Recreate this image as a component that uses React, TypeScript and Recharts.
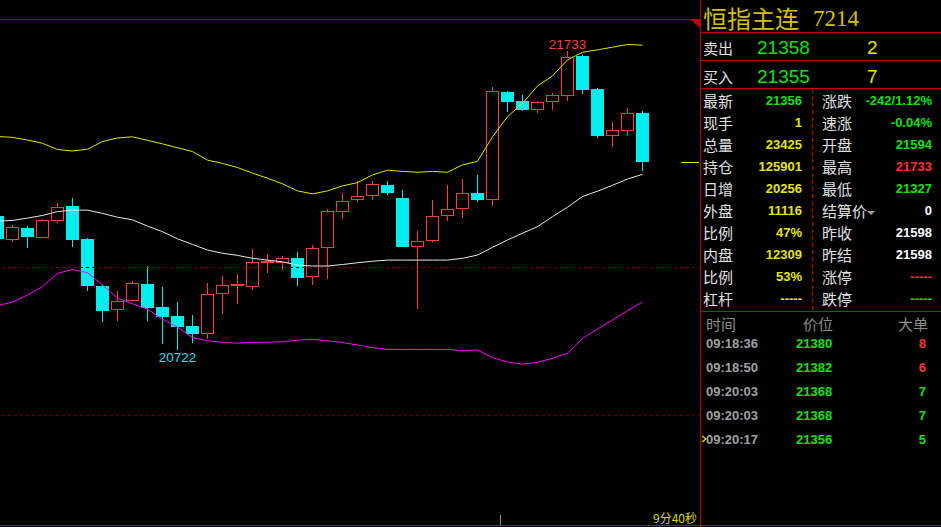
import React from 'react';
import { ComposedChart, Bar, Line, XAxis, YAxis, ReferenceLine, ReferenceDot } from 'recharts';

// ---------- chart data (44 candles, 3 empty slots on the right) ----------
const slotIds = [
  0, 1, 2, 3, 4, 5, 6, 7, 8, 9, 10, 11, 12, 13, 14, 15, 16, 17, 18, 19, 20, 21, 22, 23,
  24, 25, 26, 27, 28, 29, 30, 31, 32, 33, 34, 35, 36, 37, 38, 39, 40, 41, 42, 43, 44, 45, 46,
];
const opens = [
  21174, 21094, 21134, 21101, 21158, 21208, 21096, 20937, 20857, 20888, 20944, 20866, 20836, 20802,
  20776, 20909, 20938, 20933, 21014, 21016, 21032, 20967, 21065, 21187, 21227, 21241, 21278, 21235,
  21068, 21089, 21173, 21199, 21252, 21229, 21594, 21563, 21534, 21558, 21581, 21716, 21604, 21446,
  21463, 21523,
];
const highs = [
  21176, 21144, 21140, 21163, 21218, 21235, 21100, 20941, 20920, 20954, 21005, 20934, 20883, 20839,
  20948, 20971, 20978, 21063, 21046, 21040, 21052, 21075, 21198, 21252, 21293, 21293, 21293, 21261,
  21123, 21227, 21279, 21298, 21313, 21610, 21598, 21584, 21562, 21590, 21733, 21720, 21606, 21492,
  21540, 21528,
];
const lows = [
  21094, 21087, 21067, 21099, 21152, 21069, 20922, 20817, 20820, 20886, 20820, 20742, 20722, 20746,
  20758, 20844, 20878, 20925, 20982, 20993, 20938, 20942, 20962, 21165, 21223, 21229, 21245, 21068,
  20861, 21087, 21158, 21168, 21223, 21209, 21527, 21529, 21524, 21534, 21564, 21588, 21439, 21409,
  21446, 21327,
];
const closes = [
  21096, 21136, 21103, 21161, 21204, 21093, 20938, 20854, 20886, 20947, 20864, 20833, 20800, 20776,
  20910, 20940, 20945, 21018, 21022, 21031, 20966, 21065, 21191, 21224, 21241, 21281, 21253, 21070,
  21089, 21173, 21197, 21251, 21228, 21598, 21561, 21533, 21559, 21583, 21711, 21600, 21445, 21464,
  21522, 21356,
];
const bollUpper = [
  21443, 21440, 21431, 21420, 21399, 21394, 21400, 21426, 21438, 21442, 21430, 21418, 21405, 21392,
  21363, 21352, 21338, 21319, 21302, 21283, 21259, 21249, 21259, 21276, 21287, 21313, 21329, 21325,
  21322, 21325, 21322, 21347, 21359, 21442, 21510, 21555, 21614, 21648, 21702, 21728, 21736, 21745,
  21754, 21752,
];
const bollMiddle = [
  21157, 21159, 21167, 21176, 21189, 21194, 21194, 21183, 21170, 21161, 21140, 21121, 21097, 21078,
  21059, 21048, 21041, 21031, 21025, 21019, 21008, 21005, 21005, 21010, 21016, 21021, 21025, 21025,
  21025, 21025, 21025, 21031, 21042, 21068, 21093, 21116, 21138, 21172, 21204, 21240, 21258, 21278,
  21299, 21315,
];
const bollLower = [
  20871, 20883, 20907, 20935, 20980, 20993, 20982, 20941, 20896, 20877, 20859, 20825, 20798, 20763,
  20752, 20747, 20744, 20747, 20747, 20749, 20754, 20757, 20752, 20746, 20738, 20729, 20723, 20723,
  20723, 20723, 20723, 20718, 20721, 20695, 20680, 20673, 20679, 20693, 20710, 20760, 20792, 20822,
  20854, 20883,
];

const Y_MIN = 20129;
const Y_MAX = 21837;
const gridPrices = [21000, 20500];
const LAST_PRICE = 21356;
const HIGH_MARK = { slot: 38, price: 21733, label: '21733' };
const LOW_MARK = { slot: 12, price: 20722, label: '20722' };

// ---------- panel data ----------
const titleName = '恒指主连';
const titleCode = '7214';
const askLabel = '卖出';
const askPrice = '21358';
const askVol = '2';
const bidLabel = '买入';
const bidPrice = '21355';
const bidVol = '7';
const leftLabels = ['最新', '现手', '总量', '持仓', '日增', '外盘', '比例', '内盘', '比例', '杠杆'];
const leftValues = ['21356', '1', '23425', '125901', '20256', '11116', '47%', '12309', '53%', '-----'];
const leftKinds = ['g', 'y', 'y', 'y', 'y', 'y', 'y', 'y', 'y', 'y'];
const rightLabels = ['涨跌', '速涨', '开盘', '最高', '最低', '结算价', '昨收', '昨结', '涨停', '跌停'];
const rightValues = ['-242/1.12%', '-0.04%', '21594', '21733', '21327', '0', '21598', '21598', '-----', '-----'];
const rightKinds = ['g', 'g', 'g', 'r', 'g', 'w', 'w', 'w', 'r', 'g'];
const tradeHeaders = ['时间', '价位', '大单'];
const tradeTimes = ['09:18:36', '09:18:50', '09:20:03', '09:20:03', '09:20:17'];
const tradePrices = ['21380', '21382', '21368', '21368', '21356'];
const tradeSizes = ['8', '6', '7', '7', '5'];
const tradeSizeKinds = ['r', 'r', 'g', 'g', 'g'];
const countdown = '9分40秒';

// ---------- styles ----------
const RED = '#ff3b3b';
const CYAN = '#00eeee';
const FRAME = '#c00000';
const GREEN = '#10e010';
const YELLOW = '#e6e600';
const WHITE = '#ffffff';
const LABEL = '#e0e0e0';
const kindColor: Record<string, string> = { g: GREEN, y: YELLOW, r: '#ff3030', w: WHITE };
const CJK = '"Noto Sans CJK SC", sans-serif';
const NUM = '"Liberation Sans", Arial, sans-serif';

const data = slotIds.map((i) =>
  i < opens.length
    ? {
        i,
        o: opens[i],
        h: highs[i],
        l: lows[i],
        c: closes[i],
        range: [lows[i], highs[i]],
        up: bollUpper[i],
        mid: bollMiddle[i],
        lo: bollLower[i],
      }
    : { i }
);

function Candle(props: any) {
  const { x, y, width, height, payload } = props;
  if (!payload || payload.o == null) return null;
  const { o, h, l, c } = payload;
  const yTop = Math.min(y, y + height);
  const yBot = Math.max(y, y + height);
  const k = h > l ? (yBot - yTop) / (h - l) : 0;
  const py = (v: number) => yTop + (h - v) * k;
  const left = Math.round(x);
  const w = Math.round(width);
  const cx = left + Math.floor(w / 2) + 0.5;
  const bodyTop = Math.round(py(Math.max(o, c)));
  const bodyBot = Math.round(py(Math.min(o, c)));
  const up = c >= o;
  const color = up ? RED : CYAN;
  return (
    <g>
      <line
        x1={cx}
        x2={cx}
        y1={Math.round(yTop)}
        y2={Math.round(yBot)}
        stroke={color}
        strokeWidth={1}
        shapeRendering="crispEdges"
      />
      {up && bodyBot - bodyTop >= 2 ? (
        <rect
          x={left + 0.5}
          y={bodyTop + 0.5}
          width={w - 1}
          height={bodyBot - bodyTop - 1}
          fill="#000"
          stroke={color}
          strokeWidth={1}
          shapeRendering="crispEdges"
        />
      ) : (
        <rect
          x={left}
          y={bodyTop}
          width={w}
          height={Math.max(1, bodyBot - bodyTop)}
          fill={color}
          shapeRendering="crispEdges"
        />
      )}
    </g>
  );
}

function PriceMarker(props: any) {
  const { x1, x2, y1 } = props;
  const right = Math.max(x1, x2);
  const yy = Math.round(y1) + 0.5;
  return <line x1={right - 19} x2={right - 1} y1={yy} y2={yy} stroke={YELLOW} strokeWidth={1} />;
}

const highLabel = (props: any) => (
  <text x={props.cx} y={props.cy - 2} textAnchor="middle" fill={RED} fontSize={13.5} fontFamily={NUM}>
    {HIGH_MARK.label}
  </text>
);
const lowLabel = (props: any) => (
  <text x={props.cx} y={props.cy + 12.5} textAnchor="middle" fill="#30d8e8" fontSize={13.5} fontFamily={NUM}>
    {LOW_MARK.label}
  </text>
);

const ROW0 = 100.5;
const ROW_STEP = 22;
const TRADE0 = 343;
const TRADE_STEP = 24;

function Panel() {
  return (
    <svg
      width={941}
      height={527}
      style={{ position: 'absolute', left: 0, top: 0, pointerEvents: 'none' }}
    >
      {/* frame */}
      <line x1={0} x2={700} y1={19.5} y2={19.5} stroke="#a80000" />
      <polygon points="690,19 700,19 700,28" fill={FRAME} />
      <line x1={700.5} x2={700.5} y1={0} y2={527} stroke={FRAME} />
      <line x1={700} x2={941} y1={32.5} y2={32.5} stroke={FRAME} />
      <line x1={700} x2={941} y1={60.5} y2={60.5} stroke={FRAME} />
      <line x1={700} x2={941} y1={88.5} y2={88.5} stroke={FRAME} />
      <line x1={700} x2={941} y1={311.5} y2={311.5} stroke={FRAME} />
      <line x1={0} x2={941} y1={525.5} y2={525.5} stroke={FRAME} />
      <line x1={812.5} x2={812.5} y1={89} y2={311} stroke={FRAME} strokeDasharray="4 3" />
      <line x1={500.5} x2={500.5} y1={515} y2={525} stroke="#8a8a8a" />
      <text x={697} y={517} textAnchor="end" dominantBaseline="central" fill="#d4d400" fontSize={12} fontFamily={CJK}>
        {countdown}
      </text>

      {/* title */}
      <text x={703} y={17} dominantBaseline="central" fill="#d2c000" fontSize={24} fontFamily={CJK}>
        {titleName}
      </text>
      <text x={813} y={26} fill="#d2c000" fontSize={23} fontFamily='"Liberation Serif", serif'>
        {titleCode}
      </text>

      {/* ask / bid */}
      <text x={703} y={47} dominantBaseline="central" fill={LABEL} fontSize={15} fontFamily={CJK}>{askLabel}</text>
      <text x={757} y={47} dominantBaseline="central" fill={GREEN} fontSize={19} fontFamily={NUM}>{askPrice}</text>
      <text x={867} y={47} dominantBaseline="central" fill={YELLOW} fontSize={19} fontFamily={NUM}>{askVol}</text>
      <text x={703} y={76.5} dominantBaseline="central" fill={LABEL} fontSize={15} fontFamily={CJK}>{bidLabel}</text>
      <text x={757} y={76.5} dominantBaseline="central" fill={GREEN} fontSize={19} fontFamily={NUM}>{bidPrice}</text>
      <text x={867} y={76.5} dominantBaseline="central" fill={YELLOW} fontSize={19} fontFamily={NUM}>{bidVol}</text>

      {/* quote rows */}
      {leftLabels.map((lab, k) => (
        <g key={'l' + k}>
          <text x={703} y={ROW0 + k * ROW_STEP} dominantBaseline="central" fill={LABEL} fontSize={15} fontFamily={CJK}>
            {lab}
          </text>
          <text
            x={802}
            y={ROW0 + k * ROW_STEP}
            dominantBaseline="central"
            textAnchor="end"
            fill={kindColor[leftKinds[k]]}
            fontSize={13}
            fontWeight="bold"
            fontFamily={NUM}
          >
            {leftValues[k]}
          </text>
        </g>
      ))}
      {rightLabels.map((lab, k) => (
        <g key={'r' + k}>
          <text x={822} y={ROW0 + k * ROW_STEP} dominantBaseline="central" fill={LABEL} fontSize={15} fontFamily={CJK}>
            {lab}
          </text>
          <text
            x={932}
            y={ROW0 + k * ROW_STEP}
            dominantBaseline="central"
            textAnchor="end"
            fill={kindColor[rightKinds[k]]}
            fontSize={13}
            fontWeight="bold"
            fontFamily={NUM}
          >
            {rightValues[k]}
          </text>
        </g>
      ))}
      <polygon points="867,211 875,211 871,215" fill="#a0a0a0" />

      {/* trades */}
      <text x={706} y={323} dominantBaseline="central" fill="#8c8c8c" fontSize={15} fontFamily={CJK}>{tradeHeaders[0]}</text>
      <text x={803} y={323} dominantBaseline="central" fill="#8c8c8c" fontSize={15} fontFamily={CJK}>{tradeHeaders[1]}</text>
      <text x={898} y={323} dominantBaseline="central" fill="#8c8c8c" fontSize={15} fontFamily={CJK}>{tradeHeaders[2]}</text>
      {tradeTimes.map((t, k) => (
        <g key={'t' + k}>
          <text x={706} y={TRADE0 + k * TRADE_STEP} dominantBaseline="central" fill="#a0a0a0" fontSize={13} fontWeight="bold" fontFamily={NUM}>
            {t}
          </text>
          <text x={796} y={TRADE0 + k * TRADE_STEP} dominantBaseline="central" fill={GREEN} fontSize={13} fontWeight="bold" fontFamily={NUM}>
            {tradePrices[k]}
          </text>
          <text
            x={926}
            y={TRADE0 + k * TRADE_STEP}
            dominantBaseline="central"
            textAnchor="end"
            fill={kindColor[tradeSizeKinds[k]]}
            fontSize={13}
            fontWeight="bold"
            fontFamily={NUM}
          >
            {tradeSizes[k]}
          </text>
        </g>
      ))}
      <polyline points="702,436 706,439 702,442" fill="none" stroke={YELLOW} strokeWidth={1.2} />
    </svg>
  );
}

export default function App() {
  return (
    <div
      style={{
        position: 'fixed',
        left: 0,
        top: 0,
        width: 941,
        height: 527,
        background: '#000',
        overflow: 'hidden',
      }}
    >
      <div style={{ position: 'absolute', left: 0, top: 0, width: 700, height: 527, overflow: 'hidden' }}>
        <div style={{ position: 'absolute', left: -10, top: 0 }}>
          <ComposedChart width={710} height={527} data={data} margin={{ top: 20, right: 0, bottom: 2, left: 0 }}>
            <XAxis dataKey="i" hide padding={{ left: 0, right: 5 }} />
            <YAxis hide type="number" domain={[Y_MIN, Y_MAX]} allowDataOverflow />
            {gridPrices.map((p) => (
              <ReferenceLine key={p} y={p} stroke="#7a0000" strokeDasharray="3 3" />
            ))}
            <Bar dataKey="range" barSize={13} isAnimationActive={false} shape={(p: any) => <Candle {...p} />} />
            <Line dataKey="up" type="linear" stroke="#e4e400" strokeWidth={1} dot={false} isAnimationActive={false} />
            <Line dataKey="mid" type="linear" stroke="#e8e8e8" strokeWidth={1} dot={false} isAnimationActive={false} />
            <Line dataKey="lo" type="linear" stroke="#ff00ff" strokeWidth={1} dot={false} isAnimationActive={false} />
            <ReferenceLine y={LAST_PRICE} stroke={YELLOW} shape={(p: any) => <PriceMarker {...p} />} />
            <ReferenceDot x={HIGH_MARK.slot} y={HIGH_MARK.price} r={0} shape={highLabel} />
            <ReferenceDot x={LOW_MARK.slot} y={LOW_MARK.price} r={0} shape={lowLabel} />
          </ComposedChart>
        </div>
      </div>
      <Panel />
    </div>
  );
}
